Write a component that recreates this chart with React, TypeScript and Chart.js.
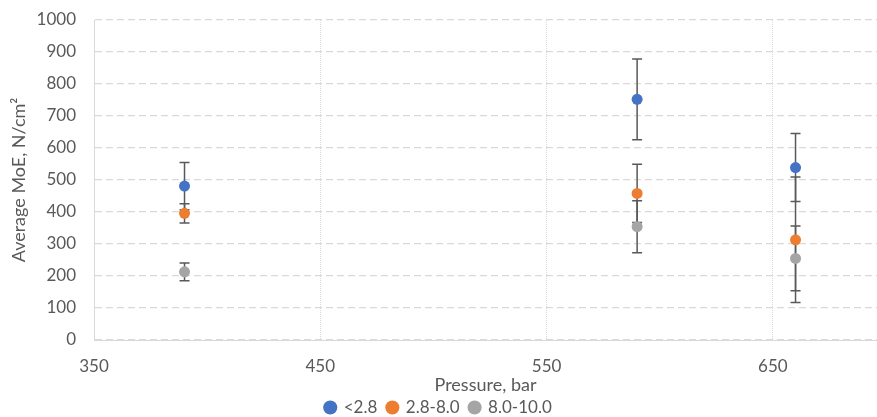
import React, { useEffect, useRef } from "react";
import { Chart, registerables } from "chart.js";

Chart.register(...registerables);

const pressures = [390, 590, 660];
const xTicks = [350, 450, 550, 650];
const seriesNames = ["<2.8", "2.8-8.0", "8.0-10.0"];
const lowValues = [481, 752, 539];
const lowErrors = [74, 126, 106];
const midValues = [396, 458, 313];
const midErrors = [30, 91, 196];
const highValues = [213, 354, 255];
const highErrors = [28, 81, 101];
const colors = ["#4472C4", "#ED7D31", "#A5A5A5"];

const errorBarPlugin = {
  id: "errorBars",
  beforeDatasetsDraw(chart: any) {
    const ctx = chart.ctx;
    const xs = chart.scales.x;
    const ys = chart.scales.y;
    ctx.save();
    ctx.strokeStyle = "#595959";
    ctx.lineWidth = 1.5;
    chart.data.datasets.forEach((ds: any) => {
      ds.data.forEach((pt: any, i: number) => {
        const e = ds.errors[i];
        const px = xs.getPixelForValue(pt.x);
        const top = ys.getPixelForValue(pt.y + e);
        const bot = ys.getPixelForValue(pt.y - e);
        ctx.beginPath();
        ctx.moveTo(px, top);
        ctx.lineTo(px, bot);
        ctx.moveTo(px - 5, top);
        ctx.lineTo(px + 5, top);
        ctx.moveTo(px - 5, bot);
        ctx.lineTo(px + 5, bot);
        ctx.stroke();
      });
    });
    ctx.restore();
  },
};

export default function App() {
  const ref = useRef<HTMLCanvasElement>(null);
  useEffect(() => {
    const mk = (vals: number[], errs: number[], idx: number) => ({
      label: seriesNames[idx],
      data: pressures.map((p, i) => ({ x: p, y: vals[i] })),
      errors: errs,
      backgroundColor: colors[idx],
      borderColor: colors[idx],
      pointRadius: 5.5,
      pointHoverRadius: 5.5,
      pointBorderWidth: 0,
    });
    const chart = new Chart(ref.current!, {
      type: "scatter",
      data: {
        datasets: [
          mk(lowValues, lowErrors, 0),
          mk(midValues, midErrors, 1),
          mk(highValues, highErrors, 2),
        ] as any,
      },
      plugins: [errorBarPlugin],
      options: {
        animation: false,
        responsive: false,
        maintainAspectRatio: false,
        layout: { autoPadding: false, padding: { top: 20, right: 0, left: 0, bottom: -9 } },
        plugins: {
          tooltip: { enabled: false },
          legend: {
            position: "bottom",
            labels: {
              usePointStyle: true,
              pointStyle: "circle",
              boxWidth: 10,
              boxHeight: 10,
              padding: 10,
              color: "#595959",
              font: { family: "Lato", size: 17 },
            },
          },
        },
        scales: {
          x: {
            type: "linear",
            min: 350,
            max: 696,
            afterBuildTicks: (s: any) => {
              s.ticks = xTicks.map((v) => ({ value: v }));
            },
            afterFit: (s: any) => {
              s.height = 49;
              s.paddingLeft = 0;
              s.paddingRight = 0;
            },
            ticks: {
              color: "#595959",
              font: { family: "Lato", size: 17 },
              padding: 16,
              maxRotation: 0,
              callback: (v: any) => String(v),
            },
            grid: { color: "#D9D9D9", lineWidth: 1, drawTicks: false },
            border: { color: "#D9D9D9", width: 1, dash: [1, 1] },
            title: {
              display: true,
              text: "Pressure, bar",
              color: "#595959",
              font: { family: "Lato", size: 18 },
              padding: { top: 0, bottom: -7 },
            },
          },
          y: {
            min: 0,
            max: 1000,
            afterFit: (s: any) => {
              s.width = 94;
              s.paddingTop = 0;
              s.paddingBottom = 0;
            },
            ticks: {
              stepSize: 100,
              color: "#595959",
              font: { family: "Lato", size: 17 },
              padding: 18,
              callback: (v: any) => String(v),
            },
            grid: { color: "#D9D9D9", lineWidth: 1.3, drawTicks: false },
            border: { color: "#D9D9D9", width: 1, dash: [7, 4] },
            title: {
              display: true,
              text: "Average MoE, N/cm²",
              color: "#595959",
              font: { family: "Lato", size: 18 },
              padding: { top: 8, bottom: 0 },
            },
          },
        },
      } as any,
    });
    return () => chart.destroy();
  }, []);
  return (
    <div style={{ position: "fixed", left: 0, top: 0, width: 877, height: 417 }}>
      <canvas ref={ref} width={877} height={417} />
    </div>
  );
}
